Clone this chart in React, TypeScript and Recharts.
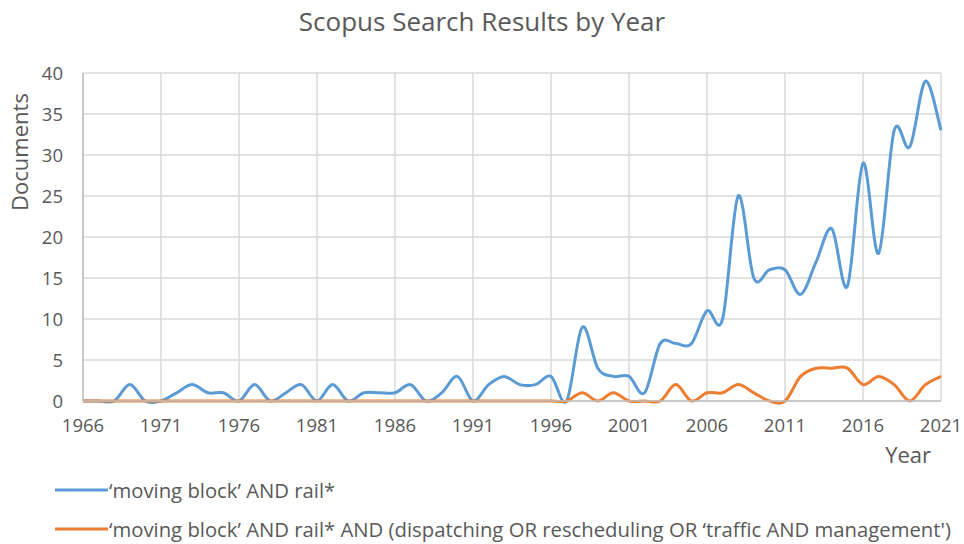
import { LineChart, Line, XAxis, YAxis, CartesianGrid, Legend, Label } from "recharts";

const years = [
  1966, 1967, 1968, 1969, 1970, 1971, 1972, 1973, 1974, 1975, 1976, 1977, 1978, 1979,
  1980, 1981, 1982, 1983, 1984, 1985, 1986, 1987, 1988, 1989, 1990, 1991, 1992, 1993,
  1994, 1995, 1996, 1997, 1998, 1999, 2000, 2001, 2002, 2003, 2004, 2005, 2006, 2007,
  2008, 2009, 2010, 2011, 2012, 2013, 2014, 2015, 2016, 2017, 2018, 2019, 2020, 2021,
];

const movingBlock = [
  0, 0, 0, 2, 0, 0, 1, 2, 1, 1, 0, 2, 0, 1,
  2, 0, 2, 0, 1, 1, 1, 2, 0, 1, 3, 0, 2, 3,
  2, 2, 3, 0, 9, 4, 3, 3, 1, 7, 7, 7, 11, 10,
  25, 15, 16, 16, 13, 17, 21, 14, 29, 18, 33, 31, 39, 33,
];

const movingBlockMgmt = [
  0, 0, 0, 0, 0, 0, 0, 0, 0, 0, 0, 0, 0, 0,
  0, 0, 0, 0, 0, 0, 0, 0, 0, 0, 0, 0, 0, 0,
  0, 0, 0, 0, 1, 0, 1, 0, 0, 0, 2, 0, 1, 1,
  2, 1, 0, 0, 3, 4, 4, 4, 2, 3, 2, 0, 2, 3,
];

const xTicks = [1966, 1971, 1976, 1981, 1986, 1991, 1996, 2001, 2006, 2011, 2016, 2021];
const yTicks = [0, 5, 10, 15, 20, 25, 30, 35, 40];

const seriesNames = [
  "\u2018moving block\u2019 AND rail*",
  "\u2018moving block\u2019 AND rail* AND (dispatching OR rescheduling OR \u2018traffic AND management')",
];
const seriesColors = ["#5B9BD5", "#ED7D31"];

const data = years.map((year, i) => ({
  year,
  a: movingBlock[i],
  b: movingBlockMgmt[i],
}));

// excel style smoothing (catmull-rom through the points)
const smoothCurve = (context: any) => {
  let pts: [number, number][] = [];
  return {
    areaStart() {},
    areaEnd() {},
    lineStart() {
      pts = [];
    },
    lineEnd() {
      if (!pts.length) return;
      context.moveTo(pts[0][0], pts[0][1]);
      for (let i = 0; i < pts.length - 1; i++) {
        const p0 = pts[i - 1] || pts[i];
        const p1 = pts[i];
        const p2 = pts[i + 1];
        const p3 = pts[i + 2] || p2;
        context.bezierCurveTo(
          p1[0] + (p2[0] - p0[0]) / 6,
          p1[1] + (p2[1] - p0[1]) / 6,
          p2[0] - (p3[0] - p1[0]) / 6,
          p2[1] - (p3[1] - p1[1]) / 6,
          p2[0],
          p2[1]
        );
      }
    },
    point(x: number, y: number) {
      pts.push([+x, +y]);
    },
  };
};

const font = "'Open Sans', sans-serif";
const grey = "#595959";

const renderLegend = () => (
  <div style={{ position: "relative", height: 71, fontFamily: font, fontSize: 20.3, color: grey }}>
    {seriesNames.map((name, i) => (
      <div
        key={name}
        style={{
          position: "absolute",
          left: 0,
          top: i === 0 ? 6 : 45,
          height: 22,
          lineHeight: "22px",
          display: "flex",
          alignItems: "center",
        }}
      >
        <svg width={55} height={10} style={{ marginLeft: 54 }}>
          <line x1={1} y1={5} x2={54} y2={5} stroke={seriesColors[i]} strokeWidth={3} />
        </svg>
        <span style={{ whiteSpace: "nowrap" }}>{name}</span>
      </div>
    ))}
  </div>
);

export default function App() {
  return (
    <div style={{ position: "absolute", left: 0, top: 0, width: 964, height: 544, background: "#fff", overflow: "hidden" }}>
      <div
        style={{
          position: "absolute",
          top: 3,
          width: 964,
          textAlign: "center",
          fontFamily: font,
          fontSize: 26,
          color: grey,
        }}
      >
        Scopus Search Results by Year
      </div>
      <LineChart width={964} height={544} data={data} margin={{ top: 73, right: 23, bottom: 0, left: 0 }}>
        <CartesianGrid stroke="#d9d9d9" strokeWidth={1.5} />
        <XAxis
          dataKey="year"
          type="number"
          domain={[1966, 2021]}
          ticks={xTicks}
          interval={0}
          height={72}
          tickSize={0}
          tickMargin={18}
          stroke="#bfbfbf"
          strokeWidth={1.5}
          tick={{ fill: grey, fontSize: 18.5, fontFamily: font }}
        >
          <Label value="Year" position="insideBottomRight" offset={10} fill={grey} fontSize={22} fontFamily={font} />
        </XAxis>
        <YAxis
          domain={[0, 40]}
          ticks={yTicks}
          width={83}
          tickSize={0}
          tickMargin={20}
          stroke="#bfbfbf"
          strokeWidth={1.5}
          tick={{ fill: grey, fontSize: 18.5, fontFamily: font }}
        >
          <Label
            content={() => (
              <text
                x={19}
                y={152}
                transform="rotate(-90 19 152)"
                textAnchor="middle"
                dominantBaseline="central"
                fill={grey}
                fontSize={22}
                fontFamily={font}
              >
                Documents
              </text>
            )}
          />
        </YAxis>
        <Legend verticalAlign="bottom" align="left" content={renderLegend} height={71} />
        <Line
          dataKey="a"
          name={seriesNames[0]}
          type={smoothCurve as any}
          stroke={seriesColors[0]}
          strokeWidth={3}
          dot={false}
          isAnimationActive={false}
        />
        <Line
          dataKey="b"
          name={seriesNames[1]}
          type={smoothCurve as any}
          stroke={seriesColors[1]}
          strokeWidth={3}
          dot={false}
          isAnimationActive={false}
        />
      </LineChart>
    </div>
  );
}
